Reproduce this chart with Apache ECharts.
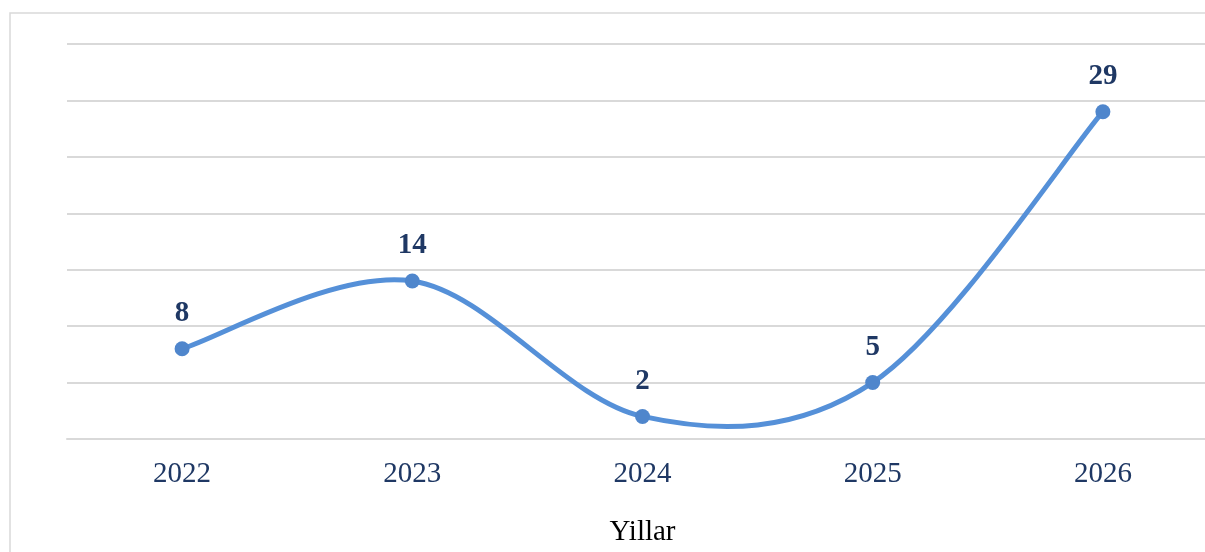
<!DOCTYPE html>
<html>
<head>
<meta charset="utf-8">
<script src="https://cdn.jsdelivr.net/npm/echarts@6/dist/echarts.min.js"></script>
<style>
html,body{margin:0;padding:0;background:#fff;}
#chart{width:1205px;height:552px;}
</style>
</head>
<body>
<div id="chart"></div>
<script>
const years = ['2022', '2023', '2024', '2025', '2026'];
const values = [8, 14, 2, 5, 29];
const axisTitle = 'Yillar';

const lineColor = '#5590d8';

// Excel-style (Catmull-Rom) smoothed curve, computed from the axis coordinates
function renderCurve(params, api) {
  if (params.dataIndex !== 0) return null;
  const pts = values.map((v, i) => api.coord([i, v]));
  const n = pts.length;
  const children = [];
  for (let i = 0; i < n - 1; i++) {
    const p0 = pts[Math.max(i - 1, 0)];
    const p1 = pts[i];
    const p2 = pts[i + 1];
    const p3 = pts[Math.min(i + 2, n - 1)];
    children.push({
      type: 'bezierCurve',
      shape: {
        x1: p1[0], y1: p1[1],
        cpx1: p1[0] + (p2[0] - p0[0]) / 6,
        cpy1: p1[1] + (p2[1] - p0[1]) / 6,
        cpx2: p2[0] - (p3[0] - p1[0]) / 6,
        cpy2: p2[1] - (p3[1] - p1[1]) / 6,
        x2: p2[0], y2: p2[1]
      },
      style: { fill: null, stroke: lineColor, lineWidth: 5, lineCap: 'round' }
    });
  }
  return { type: 'group', children: children };
}

const chart = echarts.init(document.getElementById('chart'));
chart.setOption({
  animation: false,
  backgroundColor: '#fff',
  graphic: [{
    type: 'rect',
    shape: { x: 10, y: 13, width: 1220, height: 560 },
    style: { fill: 'none', stroke: '#d9d9d9', lineWidth: 1.5 },
    silent: true
  }],
  grid: { left: 67, right: -13, top: 44, bottom: 113, outerBoundsMode: 'none', containLabel: false },
  xAxis: {
    type: 'category',
    data: years,
    boundaryGap: true,
    name: axisTitle,
    nameLocation: 'middle',
    nameGap: 79,
    nameTextStyle: { fontFamily: 'Liberation Serif', fontSize: 29, color: '#000' },
    axisLine: { show: true, lineStyle: { color: '#d9d9d9', width: 2 } },
    axisTick: { show: false },
    axisLabel: { fontFamily: 'Liberation Serif', fontSize: 29, color: '#1f3864', margin: 21 }
  },
  yAxis: {
    type: 'value',
    min: 0,
    max: 35,
    interval: 5,
    axisLabel: { show: false },
    axisLine: { show: false },
    axisTick: { show: false },
    splitLine: { lineStyle: { color: '#d9d9d9', width: 2 } }
  },
  series: [{
    type: 'custom',
    data: values.map((v, i) => [i, v]),
    encode: { x: 0, y: 1 },
    renderItem: renderCurve,
    z: 2,
    silent: true
  }, {
    type: 'line',
    data: values,
    symbol: 'circle',
    symbolSize: 15,
    z: 3,
    lineStyle: { width: 0, opacity: 0 },
    itemStyle: { color: '#4f86cc' },
    label: {
      show: true,
      position: 'top',
      distance: 13,
      fontFamily: 'Liberation Serif',
      fontSize: 29,
      fontWeight: 'bold',
      color: '#1f3864'
    }
  }]
});
</script>
</body>
</html>
